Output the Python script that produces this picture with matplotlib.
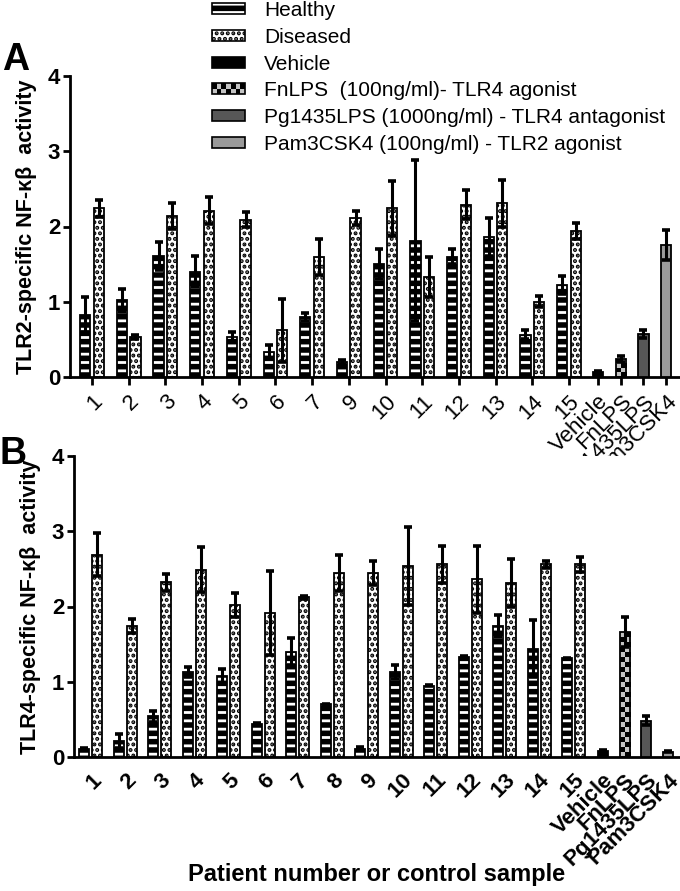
import matplotlib
matplotlib.use('Agg')
import matplotlib.pyplot as plt
import numpy as np
from matplotlib.patches import Rectangle
from matplotlib.legend_handler import HandlerBase
from matplotlib.colors import ListedColormap
from matplotlib.transforms import ScaledTranslation

plt.rcParams['hatch.linewidth'] = 2.0
FONT = 'Liberation Sans'

# ---------------- data ----------------
patients_A = ['1', '2', '3', '4', '5', '6', '7', '9', '10', '11', '12', '13', '14', '15']
healthy_A = [0.83, 1.02, 1.61, 1.40, 0.53, 0.33, 0.80, 0.20, 1.50, 1.81, 1.60, 1.86, 0.56, 1.22]
healthy_A_err = [0.23, 0.15, 0.19, 0.21, 0.07, 0.09, 0.05, 0.03, 0.20, 1.07, 0.10, 0.25, 0.06, 0.12]
diseased_A = [2.24, 0.53, 2.14, 2.21, 2.09, 0.62, 1.60, 2.11, 2.24, 1.33, 2.29, 2.31, 1.00, 1.94]
diseased_A_err = [0.11, 0.03, 0.17, 0.18, 0.10, 0.42, 0.24, 0.09, 0.36, 0.27, 0.19, 0.31, 0.07, 0.10]

controls = ['Vehicle', 'FnLPS', 'Pg1435LPS', 'Pam3CSK4']
control_A = [0.07, 0.24, 0.57, 1.76]
control_A_err = [0.01, 0.04, 0.05, 0.20]

patients_B = ['1', '2', '3', '4', '5', '6', '7', '8', '9', '10', '11', '12', '13', '14', '15']
healthy_B = [0.11, 0.21, 0.54, 1.13, 1.08, 0.44, 1.40, 0.70, 0.11, 1.13, 0.95, 1.33, 1.74, 1.44, 1.31]
healthy_B_err = [0.01, 0.09, 0.07, 0.07, 0.09, 0.01, 0.18, 0.01, 0.02, 0.09, 0.01, 0.01, 0.15, 0.38, 0.01]
diseased_B = [2.69, 1.74, 2.32, 2.49, 2.02, 1.91, 2.12, 2.44, 2.44, 2.54, 2.56, 2.36, 2.31, 2.56, 2.56]
diseased_B_err = [0.29, 0.09, 0.11, 0.30, 0.16, 0.56, 0.02, 0.24, 0.16, 0.52, 0.25, 0.45, 0.32, 0.05, 0.10]
control_B = [0.08, 1.66, 0.48, 0.07]
control_B_err = [0.01, 0.20, 0.06, 0.01]

legend_labels = ['Healthy', 'Diseased', 'Vehicle',
                 'FnLPS  (100ng/ml)- TLR4 agonist',
                 'Pg1435LPS (1000ng/ml) - TLR4 antagonist',
                 'Pam3CSK4 (100ng/ml) - TLR2 agonist']
ylabel_A = 'TLR2-specific NF-\u03ba\u03b2  activity'
ylabel_B = 'TLR4-specific NF-\u03ba\u03b2  activity'
xlabel = 'Patient number or control sample'

# ---------------- styles ----------------
CHECK_LIGHT = '#c4c4c4'
STYLES = {
    'Healthy': dict(face='black', hatch='--', hcol='white'),
    'Diseased': dict(face='white', hatch='...', hcol='black'),
    'Vehicle': dict(face='black', hatch=None, hcol=None),
    'FnLPS': dict(face='checker', hatch=None, hcol=None),
    'Pg1435LPS': dict(face='#575757', hatch=None, hcol=None),
    'Pam3CSK4': dict(face='#9a9a9a', hatch=None, hcol=None),
}

W, H = 680, 891
fig = plt.figure(figsize=(W / 100, H / 100), dpi=100)


def px_axes(l, t, r, b):
    return fig.add_axes([l / W, 1 - b / H, (r - l) / W, (b - t) / H])


def draw_bar(ax, x, h, err, w, style):
    st = STYLES[style]
    if st['face'] == 'checker':
        base = ax.bar(x, h, w, color=CHECK_LIGHT, linewidth=0, zorder=2)[0]
        ppu = ax.transData.transform((0, 1))[1] - ax.transData.transform((0, 0))[1]
        rows = max(1, int(round(h * ppu / 5.0)))
        pat = np.add.outer(np.arange(rows), np.arange(2)) % 2
        im = ax.imshow(pat, cmap=ListedColormap([CHECK_LIGHT, 'black']),
                       extent=(x - w / 2, x + w / 2, 0, h), aspect='auto',
                       interpolation='nearest', origin='lower', zorder=2.5)
        im.set_clip_path(base)
        ax.bar(x, h, w, facecolor='none', edgecolor='black', linewidth=1.3, zorder=3)
    elif st['hatch']:
        ax.bar(x, h, w, color=st['face'], hatch=st['hatch'], edgecolor=st['hcol'],
               linewidth=0, zorder=2)
        ax.bar(x, h, w, facecolor='none', edgecolor='black', linewidth=1.3, zorder=3)
    else:
        ax.bar(x, h, w, color=st['face'], edgecolor='black', linewidth=1.3, zorder=3)
    ax.errorbar(x, h, yerr=err, fmt='none', ecolor='black', elinewidth=2.2,
                capsize=3.2, capthick=2.6, zorder=4)


def panel(ax, labels_p, healthy, h_err, diseased, d_err, ctrl, c_err,
          c_start, c_step, w, off, xlim, ticks, bold_x, dx_px, last_dx_px):
    ax.set_ylim(0, 4)
    ax.set_xlim(*xlim)
    pos = np.arange(1, len(labels_p) + 1)
    for p, hv, he, dv, de in zip(pos, healthy, h_err, diseased, d_err):
        draw_bar(ax, p - off, hv, he, w, 'Healthy')
        draw_bar(ax, p + off, dv, de, w, 'Diseased')
    cpos = c_start + c_step * np.arange(len(controls))
    for cp, name, v, e in zip(cpos, controls, ctrl, c_err):
        draw_bar(ax, cp, v, e, w, name)
    ax.set_xticks(list(pos) + list(cpos))
    labs = ax.set_xticklabels(labels_p + controls, rotation=45, ha='right',
                              rotation_mode='anchor', fontfamily=FONT,
                              fontsize=16, fontweight='bold' if bold_x else 'normal')
    for i, t in enumerate(labs):
        d = last_dx_px if i == len(labs) - 1 else dx_px
        if d:
            t.set_transform(t.get_transform() + ScaledTranslation(d / 100, 0, fig.dpi_scale_trans))
    ax.set_yticks([0, 1, 2, 3, 4])
    ax.set_yticklabels(['0', '1', '2', '3', '4'], fontfamily=FONT,
                       fontsize=16, fontweight='bold')
    for s in ('top', 'right'):
        ax.spines[s].set_visible(False)
    for s in ('left', 'bottom'):
        ax.spines[s].set_linewidth(2.0)
    ax.tick_params(axis='y', length=5, width=2, pad=2)
    if ticks:
        ax.tick_params(axis='x', length=6, width=2, pad=4)
    else:
        ax.tick_params(axis='x', length=0, pad=9)


axA = px_axes(70, 76, 679, 377)
panel(axA, patients_A, healthy_A, healthy_A_err, diseased_A, diseased_A_err,
      control_A, control_A_err, 14.79, 0.62, 0.28, 0.185, (0.4, 17.0), True, False, -1, -3)
axA.set_ylabel(ylabel_A, fontfamily=FONT, fontsize=15.5, fontweight='bold', labelpad=8)

axB = px_axes(74, 456, 679, 757)
panel(axB, patients_B, healthy_B, healthy_B_err, diseased_B, diseased_B_err,
      control_B, control_B_err, 15.84, 0.63, 0.29, 0.19, (0.51, 18.05), False, True, -3, -9)
axB.set_ylabel(ylabel_B, fontfamily=FONT, fontsize=15.5, fontweight='bold', labelpad=8)

fig.text(2 / W, 1 - 42 / H, 'A', fontfamily=FONT, fontsize=27, fontweight='bold', va='top', ha='left')
fig.text(0 / W, 1 - 436 / H, 'B', fontfamily=FONT, fontsize=27, fontweight='bold', va='top', ha='left')
fig.text(377 / W, 1 - 875 / H, xlabel, fontfamily=FONT, fontsize=17, fontweight='bold',
         ha='center', va='center')


# ---------------- legend ----------------
class BoxHandler(HandlerBase):
    def create_artists(self, legend, orig_handle, xdescent, ydescent, width, height, fontsize, trans):
        st = STYLES[orig_handle.get_label()]
        x0, y0 = -xdescent, -ydescent
        arts = []
        if st['face'] == 'checker':
            nx, ny = 7, 2
            for i in range(nx):
                for j in range(ny):
                    c = 'black' if (i + j) % 2 else CHECK_LIGHT
                    arts.append(Rectangle((x0 + i * width / nx, y0 + j * height / ny),
                                          width / nx, height / ny, facecolor=c,
                                          edgecolor='none', transform=trans))
        elif st['hatch']:
            arts.append(Rectangle((x0, y0), width, height, facecolor=st['face'],
                                  hatch=st['hatch'], edgecolor=st['hcol'], linewidth=0,
                                  transform=trans))
        else:
            arts.append(Rectangle((x0, y0), width, height, facecolor=st['face'],
                                  edgecolor='none', transform=trans))
        arts.append(Rectangle((x0, y0), width, height, facecolor='none',
                              edgecolor='black', linewidth=1.2, transform=trans))
        return arts


keys = ['Healthy', 'Diseased', 'Vehicle', 'FnLPS', 'Pg1435LPS', 'Pam3CSK4']
handles = [Rectangle((0, 0), 1, 1, label=k) for k in keys]
LEG_PT = 15
leg_px = LEG_PT * 100 / 72
leg = fig.legend(handles, legend_labels, handler_map={Rectangle: BoxHandler()},
                 loc='upper left', bbox_to_anchor=(212 / W, 1 - 1 / H),
                 frameon=False, borderpad=0, borderaxespad=0,
                 prop=dict(family=FONT, size=LEG_PT),
                 handlelength=33 / leg_px, handleheight=9 / leg_px,
                 handletextpad=19 / leg_px,
                 labelspacing=(28.6 - 1.0 * leg_px) / leg_px)

fig.savefig('out.png', dpi=100)
